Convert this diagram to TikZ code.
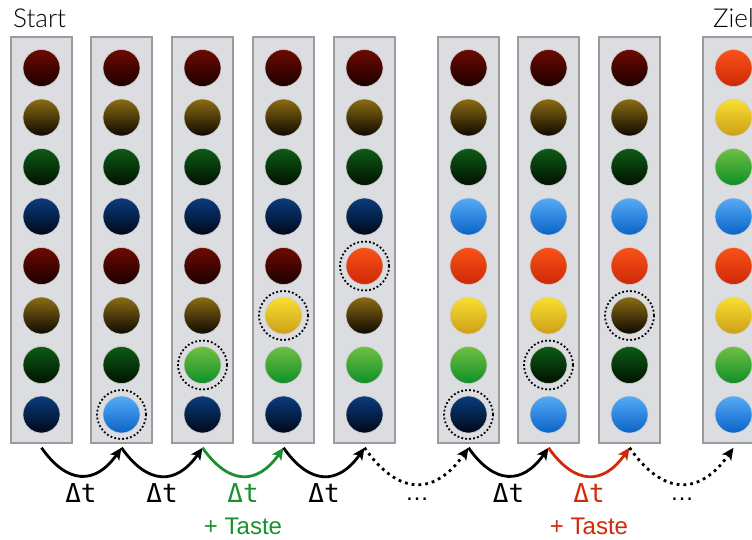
\documentclass[tikz,border=0pt]{standalone}
\usepackage{fontspec}
\setmainfont{Lato}[UprightFont={* Light}]
\newfontfamily\tastefont{Liberation Sans}
\newfontfamily\monofont{DejaVu Sans Mono}
\usetikzlibrary{arrows.meta}
\definecolor{colfill}{HTML}{DCDDE0}
\definecolor{coldraw}{HTML}{9A9B9F}
\definecolor{tgreen}{HTML}{1A9030}
\definecolor{tred}{HTML}{D02A08}
\begin{document}
\begin{tikzpicture}[x=1pt,y=-1pt,
  colbox/.style={draw=coldraw,fill=colfill,line width=1.5pt,minimum width=61pt,minimum height=406pt,inner sep=0pt},
  ball/.style={circle,minimum size=37pt,inner sep=0pt,draw=black!18,line width=0.6pt},
  dR/.style={top color={rgb,255:red,110;green,10;blue,0},bottom color={rgb,255:red,26;green,0;blue,0}},
  dY/.style={top color={rgb,255:red,140;green,108;blue,20},bottom color={rgb,255:red,14;green,9;blue,0}},
  dG/.style={top color={rgb,255:red,12;green,92;blue,20},bottom color={rgb,255:red,0;green,18;blue,0}},
  dB/.style={top color={rgb,255:red,10;green,60;blue,125},bottom color={rgb,255:red,0;green,8;blue,26}},
  bR/.style={top color={rgb,255:red,250;green,82;blue,24},bottom color={rgb,255:red,205;green,40;blue,8}},
  bY/.style={top color={rgb,255:red,248;green,224;blue,50},bottom color={rgb,255:red,205;green,158;blue,24}},
  bG/.style={top color={rgb,255:red,110;green,192;blue,66},bottom color={rgb,255:red,16;green,142;blue,40}},
  bB/.style={top color={rgb,255:red,86;green,170;blue,245},bottom color={rgb,255:red,10;green,100;blue,200}},
  ring/.style={circle,draw=black,line width=1.8pt,dash pattern=on 1.8pt off 2.2pt,minimum size=49pt,inner sep=0pt},
  arr/.style={line width=2.8pt,-{Stealth[length=12pt,width=11pt,inset=3pt]}},
  garr/.style={arr,draw=tgreen},
  rarr/.style={arr,draw=tred},
  dotarr/.style={arr,dash pattern=on 2.8pt off 4pt},
  dtlab/.style={anchor=base,font=\monofont\fontsize{26}{30}\selectfont},
  tlab/.style={anchor=base,font=\tastefont\fontsize{24}{28}\selectfont},
  head/.style={anchor=base west,font=\fontsize{26}{30}\selectfont}
]
\useasboundingbox (0,0) rectangle (752,539);
\clip (0,0) rectangle (752,539);
\node[head,inner sep=0pt] (start) at (13,27) {Start};
\node[head,inner sep=0pt] (ziel) at (713,27) {Ziel};
\foreach \i/\x/\cols/\m in {
  1/41.5/{dR,dY,dG,dB,dR,dY,dG,dB}/0,
  2/121.5/{dR,dY,dG,dB,dR,dY,dG,bB}/8,
  3/202.5/{dR,dY,dG,dB,dR,dY,bG,dB}/7,
  4/283.5/{dR,dY,dG,dB,dR,bY,bG,dB}/6,
  5/364.5/{dR,dY,dG,dB,bR,dY,bG,dB}/5,
  6/468.5/{dR,dY,dG,bB,bR,bY,bG,dB}/8,
  7/548.5/{dR,dY,dG,bB,bR,bY,dG,bB}/7,
  8/629.5/{dR,dY,dG,bB,bR,dY,dG,bB}/6,
  9/733.5/{bR,bY,bG,bB,bR,bY,bG,bB}/0}{
  \node[colbox] (c\i) at (\x,240) {};
  \foreach \c [count=\j] in \cols {
    \node[ball,\c] (b\i-\j) at (\x,{68+49.5*(\j-1)}) {};
  }
  \ifnum\m>0 \node[ring] (m\i) at (b\i-\m) {};\fi
}
\foreach \a/\b/\s in {1/2/arr,2/3/arr,3/4/garr,4/5/arr,5/6/dotarr,6/7/arr,7/8/rarr,8/9/dotarr}{
  \draw[\s] ([yshift=-4pt]c\a.south) to[out=-55,in=-125,looseness=1.45] ([yshift=-4pt]c\b.south);
}
\node[dtlab] (l1) at (81,502) {Δt};
\node[dtlab] (l2) at (162,502) {Δt};
\node[dtlab,text=tgreen] (l3) at (243,502) {Δt};
\node[tlab,text=tgreen] (k3) at (243,534) {+ Taste};
\node[dtlab] (l4) at (324,502) {Δt};
\node[tlab] (e1) at (417,500) {…};
\node[dtlab] (l6) at (508.5,502) {Δt};
\node[dtlab,text=tred] (l7) at (589,502) {Δt};
\node[tlab,text=tred] (k7) at (589,534) {+ Taste};
\node[tlab] (e2) at (682,500) {…};
\end{tikzpicture}
\end{document}
